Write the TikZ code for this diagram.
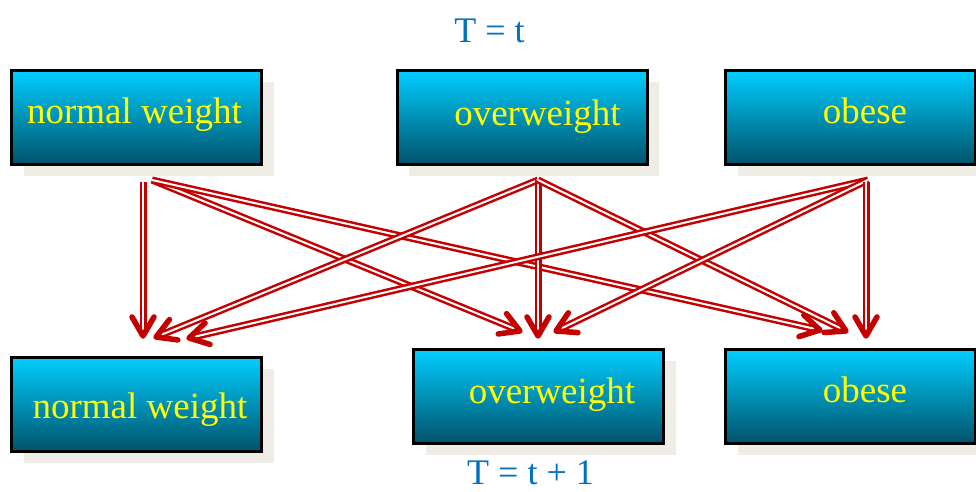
\documentclass[tikz,border=0pt]{standalone}
\usepackage{fontspec}
\setmainfont{Liberation Serif}
\usetikzlibrary{calc,shadows}

\definecolor{boxtop}{RGB}{0,206,255}
\definecolor{boxmid}{RGB}{0,158,198}
\definecolor{boxbot}{RGB}{0,82,106}
\definecolor{shadowbeige}{RGB}{240,237,230}
\definecolor{linkred}{RGB}{196,0,0}
\definecolor{titleblue}{RGB}{0,112,192}
\definecolor{labelyellow}{RGB}{255,255,0}

\tikzset{
  state/.style={rectangle, draw=black, line width=3pt,
    minimum width=250pt, minimum height=94pt, inner sep=0pt,
    top color=boxtop, middle color=boxmid, bottom color=boxbot,
    drop shadow={shadow xshift=12pt, shadow yshift=-11pt,
      fill=shadowbeige, opacity=1}},
  statelabel/.style={anchor=base, text=labelyellow, inner sep=0pt,
    font=\fontsize{37}{40}\selectfont},
  title/.style={anchor=base, text=titleblue, inner sep=0pt,
    font=\fontsize{36}{40}\selectfont},
  shaft/.style={draw=linkred, double=white, line width=2.5pt,
    double distance=2pt},
  vhead/.style={draw=linkred, line width=5.5pt, line cap=round,
    line join=round}
}

% double-lined transition with an open V head
\newcommand\translink[2]{%
  \draw[shaft] (#1) -- ($(#2)!5pt!(#1)$);
  \draw[vhead] ($(#2)!22pt!30:(#1)$) -- (#2) -- ($(#2)!22pt!-30:(#1)$);
}

\begin{document}
\begin{tikzpicture}[x=1pt, y=-1pt]
  \useasboundingbox (0,0) rectangle (976,491);

  % states at time t
  \node[state] (nt) at (136.5,117.5) {};
  \node[state] (ot) at (522,117.5) {};
  \node[state] (bt) at (850.5,117.5) {};
  % states at time t+1
  \node[state] (nb) at (136.5,404.5) {};
  \node[state] (ob) at (538.5,396.5) {};
  \node[state] (bb) at (850.5,396.5) {};

  \node[statelabel] (ntl) at (134.5,123) {normal weight};
  \node[statelabel] (otl) at (537.5,125) {overweight};
  \node[statelabel] (btl) at (865,123) {obese};
  \node[statelabel] (nbl) at (140,418) {normal weight};
  \node[statelabel] (obl) at (552,403) {overweight};
  \node[statelabel] (bbl) at (865,402) {obese};

  \node[title] (tnow) at (489.5,42) {T = t};
  \node[title] (tnext) at (530.5,484) {T = t + 1};

  % where the transitions leave the upper row
  \coordinate (nt-v) at (143,182);
  \coordinate (nt-d) at (152,180);
  \coordinate (ot-d) at (538,180);
  \coordinate (bt-v) at (866,182);
  \coordinate (bt-d) at (868,180);
  % where they arrive at the lower row
  \coordinate (nb-n) at (143,336);
  \coordinate (nb-o) at (156,337);
  \coordinate (nb-b) at (189,338);
  \coordinate (ob-n) at (520,331);
  \coordinate (ob-o) at (538,336);
  \coordinate (ob-b) at (556,331);
  \coordinate (bb-n) at (820,330);
  \coordinate (bb-o) at (846,331);
  \coordinate (bb-b) at (866,336);

  \translink{nt-v}{nb-n}
  \translink{nt-d}{ob-n}
  \translink{nt-d}{bb-n}
  \translink{ot-d}{nb-o}
  \translink{ot-d}{ob-o}
  \translink{ot-d}{bb-o}
  \translink{bt-d}{nb-b}
  \translink{bt-d}{ob-b}
  \translink{bt-v}{bb-b}
\end{tikzpicture}
\end{document}
